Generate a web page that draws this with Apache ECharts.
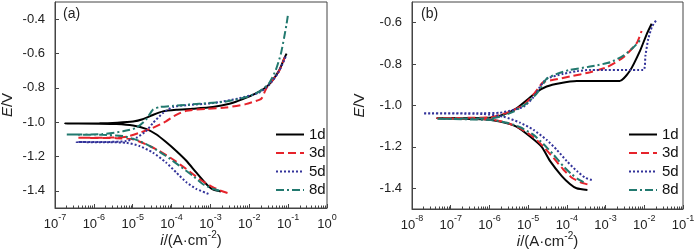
<!DOCTYPE html>
<html>
<head>
<meta charset="utf-8">
<script src="https://cdn.jsdelivr.net/npm/echarts@6/dist/echarts.min.js"></script>
<style>
  html, body { margin: 0; padding: 0; background: #fff; }
  #chart { width: 700px; height: 251px; }
</style>
</head>
<body>
<div id="chart"></div>
<script>
var myChart = echarts.init(document.getElementById('chart'));
var fontName = 'Liberation Sans, Arial, sans-serif';

// 图例名称
var names = ['1d', '3d', '5d', '8d'];
var colors = ['#000000', '#e6232b', '#33339a', '#22796f'];
var dashes = ['solid', [8, 4], [2, 2], [8, 3, 2, 3]];

// y 轴刻度
var yTicksA = [-1.4, -1.2, -1.0, -0.8, -0.6, -0.4];
var yTicksB = [-1.4, -1.2, -1.0, -0.8, -0.6];

// (a) 各曲线 [i, E]，从阴极端到阳极端
var a1d = [[1.86e-3,-1.404],[1.15e-3,-1.392],[7.8e-4,-1.36],[4.3e-4,-1.293],[2.4e-4,-1.225],[1.32e-4,-1.168],[7.2e-5,-1.116],[4.1e-5,-1.072],[2.2e-5,-1.039],[1.02e-5,-1.02],[3.8e-6,-1.011],[1.4e-6,-1.009],[1.8e-7,-1.008],
    [1.4e-6,-1.007],[4.0e-6,-1.003],[1.02e-5,-0.996],[1.8e-5,-0.983],[3.3e-5,-0.958],[6.0e-5,-0.937],[1.32e-4,-0.928],[3.5e-4,-0.922],[1.15e-3,-0.912],[3.1e-3,-0.893],[6.8e-3,-0.866],[1.48e-2,-0.832],[2.7e-2,-0.797],[4.0e-2,-0.755],[5.9e-2,-0.698],[7.9e-2,-0.63],[9.1e-2,-0.601]];
var a3d = [[2.75e-3,-1.413],[2.1e-3,-1.404],[1.15e-3,-1.379],[5.2e-4,-1.331],[2.4e-4,-1.273],[1.07e-4,-1.216],[4.9e-5,-1.168],[2.2e-5,-1.129],[1.02e-5,-1.10],[3.8e-6,-1.093],[4.0e-7,-1.091],
    [2.5e-6,-1.09],[6.9e-6,-1.085],[1.5e-5,-1.062],[3.3e-5,-1.033],[7.2e-5,-0.995],[1.32e-4,-0.957],[2.4e-4,-0.934],[7.8e-4,-0.922],[2.5e-3,-0.915],[8.1e-3,-0.895],[1.8e-2,-0.87],[2.1e-2,-0.86],[2.8e-2,-0.80],[4.0e-2,-0.755],[5.9e-2,-0.70],[8.3e-2,-0.62]];
var a5d = [[8.9e-4,-1.418],[4.3e-4,-1.388],[2.4e-4,-1.35],[1.32e-4,-1.293],[7.2e-5,-1.235],[3.3e-5,-1.177],[1.5e-5,-1.139],[6.9e-6,-1.12],[2.5e-6,-1.117],[3.6e-7,-1.116],
    [2.5e-6,-1.115],[6.9e-6,-1.11],[1.23e-5,-1.091],[2.2e-5,-1.053],[3.3e-5,-1.005],[6.0e-5,-0.947],[1.07e-4,-0.912],[2.4e-4,-0.901],[1.15e-3,-0.889],[5.5e-3,-0.861],[1.8e-2,-0.828],[3.2e-2,-0.784],[5.4e-2,-0.717],[7.9e-2,-0.64],[8.7e-2,-0.615]];
var a8d = [[1.7e-3,-1.40],[1.15e-3,-1.388],[6.3e-4,-1.36],[3.5e-4,-1.312],[1.6e-4,-1.254],[7.2e-5,-1.197],[3.3e-5,-1.149],[1.5e-5,-1.11],[5.6e-6,-1.081],[1.6e-6,-1.074],[2.0e-7,-1.072],
    [1.6e-6,-1.07],[5.6e-6,-1.053],[1.23e-5,-1.033],[2.2e-5,-0.985],[3.3e-5,-0.928],[4.9e-5,-0.912],[1.07e-4,-0.905],[5.2e-4,-0.893],[2.5e-3,-0.88],[8.1e-3,-0.855],[1.8e-2,-0.822],[3.2e-2,-0.774],[4.8e-2,-0.697],[6.5e-2,-0.602],[7.9e-2,-0.506],[9.1e-2,-0.429],[9.8e-2,-0.381]];

// (b) 各曲线 [i, E]
var b1d = [[3.4e-4,-1.408],[1.78e-4,-1.40],[1.2e-4,-1.379],[7.4e-5,-1.341],[3.7e-5,-1.269],[2.24e-5,-1.20],[1.12e-5,-1.15],[5.0e-6,-1.102],[1.86e-6,-1.078],[6.9e-7,-1.067],[4.4e-8,-1.062],
    [6.9e-7,-1.06],[1.26e-6,-1.057],[2.8e-6,-1.038],[5.0e-6,-1.014],[9.1e-6,-0.975],[1.66e-5,-0.935],[3.0e-5,-0.908],[6.6e-5,-0.892],[1.82e-4,-0.882],[2.3e-3,-0.882],[4.3e-3,-0.831],[7.8e-3,-0.735],[1.15e-2,-0.656],[1.55e-2,-0.605]];
var b3d = [[3.4e-4,-1.381],[2.2e-4,-1.37],[1.35e-4,-1.349],[8.1e-5,-1.309],[4.5e-5,-1.253],[2.45e-5,-1.198],[1.38e-5,-1.153],[6.2e-6,-1.11],[2.8e-6,-1.083],[1.05e-6,-1.067],[4.4e-8,-1.062],
    [1.05e-6,-1.057],[1.86e-6,-1.046],[4.2e-6,-1.022],[7.6e-6,-0.998],[1.12e-5,-0.967],[1.66e-5,-0.927],[2.45e-5,-0.887],[4.5e-5,-0.876],[1.2e-4,-0.86],[4.0e-4,-0.839],[1.07e-3,-0.815],[2.9e-3,-0.767],[6.5e-3,-0.696],[8.5e-3,-0.64]];
var b5d = [[4.4e-4,-1.36],[3.0e-4,-1.349],[1.82e-4,-1.317],[1.0e-4,-1.269],[5.5e-5,-1.214],[3.0e-5,-1.166],[1.38e-5,-1.118],[6.2e-6,-1.083],[2.3e-6,-1.054],[6.9e-7,-1.041],[1.95e-8,-1.038],
    [6.9e-7,-1.037],[1.86e-6,-1.035],[3.4e-6,-1.025],[7.6e-6,-1.006],[1.38e-5,-0.959],[2.0e-5,-0.911],[3.0e-5,-0.871],[8.1e-5,-0.847],[1.82e-4,-0.834],[4.0e-4,-0.828],[9.5e-3,-0.828],[1.07e-2,-0.76],[1.26e-2,-0.68],[1.58e-2,-0.62],[2.1e-2,-0.584]];
var b8d = [[2.7e-4,-1.37],[2.0e-4,-1.357],[1.35e-4,-1.333],[8.1e-5,-1.293],[4.5e-5,-1.237],[2.45e-5,-1.185],[1.38e-5,-1.142],[6.2e-6,-1.105],[2.8e-6,-1.083],[1.05e-6,-1.07],[4.4e-8,-1.064],
    [1.05e-6,-1.062],[1.86e-6,-1.054],[4.2e-6,-1.03],[9.1e-6,-0.99],[1.66e-5,-0.943],[2.45e-5,-0.895],[3.0e-5,-0.871],[5.5e-5,-0.847],[1.2e-4,-0.828],[4.0e-4,-0.812],[1.32e-3,-0.791],[2.9e-3,-0.759],[5.2e-3,-0.72],[7.8e-3,-0.684]];

var curvesA = [a1d, a3d, a5d, a8d];
var curvesB = [b1d, b3d, b5d, b8d];

// 对数轴的次刻度 2..9
function minorTicks(lo, hi) {
    var out = [];
    for (var e = lo; e < hi; e++) {
        for (var k = 2; k <= 9; k++) {
            out.push(k * Math.pow(10, e));
        }
    }
    return out;
}

var supRich = {
    b: { fontSize: 13, lineHeight: 18, verticalAlign: 'bottom', fontFamily: fontName, color: '#222' },
    s: { fontSize: 9, lineHeight: 10, verticalAlign: 'top', fontFamily: fontName, color: '#222' }
};

function logLabel(v) {
    var e = Math.round(Math.log10(v));
    return '{b|10}{s|' + e + '}';
}

function mainX(grid, lo, hi) {
    return {
        type: 'log', logBase: 10, gridIndex: grid, position: 'bottom',
        min: Math.pow(10, lo), max: Math.pow(10, hi), interval: 1,
        name: '{i|i}{n|/(A·cm}{s|-2}{n|)}',
        nameLocation: 'middle', nameGap: 22, nameMoveOverlap: false,
        nameTextStyle: {
            rich: {
                i: { fontSize: 15, fontStyle: 'italic', fontFamily: fontName, color: '#222', lineHeight: 18, verticalAlign: 'bottom' },
                n: { fontSize: 15, fontFamily: fontName, color: '#222', lineHeight: 18, verticalAlign: 'bottom' },
                s: { fontSize: 10, fontFamily: fontName, color: '#222', lineHeight: 11, verticalAlign: 'top' }
            }
        },
        axisLine: { lineStyle: { color: '#444', width: 1 } },
        axisTick: { inside: true, length: 4, lineStyle: { color: '#444' } },
        axisLabel: { margin: 5, formatter: logLabel, rich: supRich },
        splitLine: { show: false }
    };
}

function minorX(grid, lo, hi) {
    return {
        type: 'log', logBase: 10, gridIndex: grid, position: 'bottom',
        min: Math.pow(10, lo), max: Math.pow(10, hi),
        axisLine: { show: false },
        axisTick: { inside: true, length: 2.5, customValues: minorTicks(lo, hi), lineStyle: { color: '#444' } },
        axisLabel: { show: false },
        splitLine: { show: false }
    };
}

function makeY(grid, lo, hi, ticks, gap) {
    return {
        type: 'value', gridIndex: grid, min: lo, max: hi,
        name: '{i|E}{n|/V}', nameLocation: 'middle', nameGap: gap, nameMoveOverlap: false,
        nameTextStyle: {
            rich: {
                i: { fontSize: 15, fontStyle: 'italic', fontFamily: fontName, color: '#222' },
                n: { fontSize: 15, fontFamily: fontName, color: '#222' }
            }
        },
        axisLine: { show: true, lineStyle: { color: '#444', width: 1 } },
        axisTick: { show: true, inside: true, length: 4, customValues: ticks, lineStyle: { color: '#444' } },
        axisLabel: {
            customValues: ticks, margin: 10,
            fontSize: 13, fontFamily: fontName, color: '#222',
            formatter: function (v) { return v.toFixed(1); }
        },
        splitLine: { show: false }
    };
}

var series = [];
function addSeries(curves, xi, yi) {
    for (var i = 0; i < curves.length; ++i) {
        series.push({
            name: names[i], type: 'line',
            xAxisIndex: xi, yAxisIndex: yi,
            data: curves[i],
            symbol: 'none', smooth: 0.2,
            lineStyle: { color: colors[i], width: 2, type: dashes[i] },
            itemStyle: { color: colors[i] },
            animation: false
        });
    }
}
addSeries(curvesA, 0, 0);
addSeries(curvesB, 2, 1);

// 图例只画线，不画圆点
function makeLegend(left) {
    return {
        data: names, orient: 'vertical', left: left, top: 127,
        padding: 0, itemWidth: 28, itemHeight: 12, itemGap: 3.5,
        itemStyle: { opacity: 0, borderWidth: 0 },
        textStyle: { fontSize: 15, fontFamily: fontName, color: '#111' }
    };
}

myChart.setOption({
    animation: false,
    title: [
        { text: '(a)', left: 63, top: 7, padding: 0, textStyle: { fontSize: 14, fontWeight: 'normal', fontFamily: fontName, color: '#222' } },
        { text: '(b)', left: 421, top: 7, padding: 0, textStyle: { fontSize: 14, fontWeight: 'normal', fontFamily: fontName, color: '#222' } }
    ],
    legend: [makeLegend(275), makeLegend(628)],
    grid: [
        { left: 55, top: 2, width: 272, height: 206, outerBoundsMode: 'none', containLabel: false, show: true, borderColor: '#444', borderWidth: 1 },
        { left: 412, top: 2, width: 271, height: 207, outerBoundsMode: 'none', containLabel: false, show: true, borderColor: '#444', borderWidth: 1 }
    ],
    xAxis: [mainX(0, -7, 0), minorX(0, -7, 0), mainX(1, -8, -1), minorX(1, -8, -1)],
    yAxis: [makeY(0, -1.5, -0.3, yTicksA, 40), makeY(1, -1.5, -0.5, yTicksB, 45)],
    series: series
});
</script>
</body>
</html>
